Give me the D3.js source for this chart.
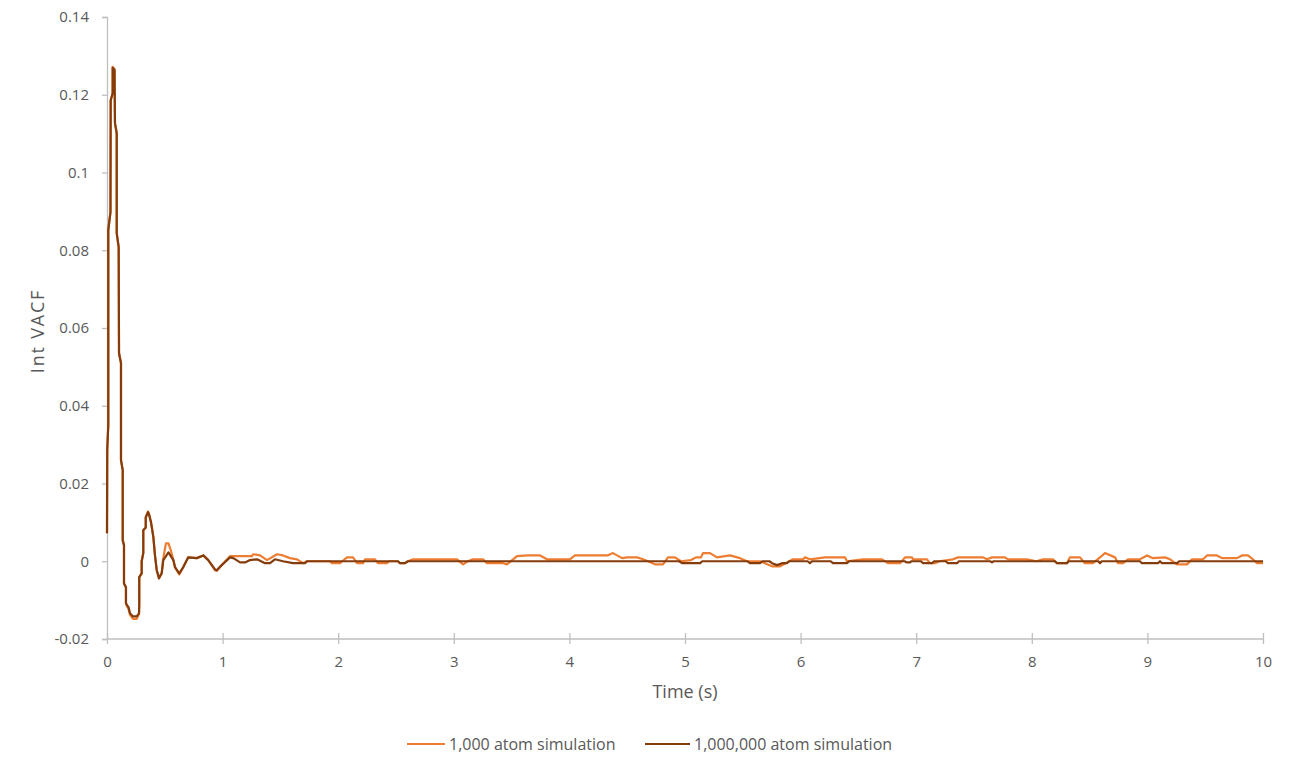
<!DOCTYPE html>
<html><head><meta charset="utf-8">
<script src="https://cdn.jsdelivr.net/npm/d3@7"></script>
<style>
body{margin:0;background:#fff;}
svg{display:block;}
text{font-family:"Open Sans","Liberation Sans",sans-serif;fill:#595959;}
</style></head>
<body><svg id="c" width="1290" height="768"></svg>
<script>
// ---- data ----
const xTicks = [0,1,2,3,4,5,6,7,8,9,10];
const yTicks = [-0.02,0,0.02,0.04,0.06,0.08,0.1,0.12,0.14];
const seriesNames = ["1,000 atom simulation","1,000,000 atom simulation"];

// [time (s), Int VACF]
const sim1k = [
[0,0.0072],[0.002,0.0286],[0.011,0.035],[0.011,0.0852],[0.030,0.0898],[0.032,0.1186],[0.049,0.1204],[0.049,0.1272],
[0.065,0.1266],[0.069,0.1127],[0.084,0.1101],[0.084,0.0844],[0.101,0.0808],[0.104,0.0535],[0.121,0.051],[0.121,0.026],
[0.136,0.0234],[0.136,0.0054],[0.147,0.0041],[0.147,-0.0057],[0.164,-0.0067],[0.164,-0.0108],[0.173,-0.0116],[0.186,-0.0122],
[0.199,-0.0138],[0.225,-0.0148],[0.257,-0.0148],[0.277,-0.0136],[0.279,-0.0108],[0.279,-0.0041],[0.300,-0.0031],[0.300,0.0],
[0.314,0.0021],[0.314,0.008],[0.335,0.0087],[0.335,0.0113],[0.355,0.0128],[0.363,0.0123],[0.381,0.01],[0.401,0.0062],
[0.415,0.0015],[0.430,-0.0023],[0.450,-0.0044],[0.473,-0.0031],[0.487,0.0008],[0.510,0.0046],[0.532,0.0046],[0.555,0.0025],
[0.574,0.0003],[0.588,-0.0015],[0.625,-0.0034],[0.660,-0.0015],[0.703,0.001],[0.776,0.0008],[0.833,0.0015],[0.876,0.0003],
[0.934,-0.0023],[0.949,-0.0025],[0.992,-0.0010],[1.064,0.0013],[1.254,0.0013],[1.263,0.0018],[1.324,0.0015],[1.384,0.0003],
[1.471,0.0018],[1.522,0.0015],[1.583,0.0008],[1.644,0.0005],[1.696,-0.0005],[1.73,0],[1.929,0],[1.946,-0.0005],
[2.016,-0.0005],[2.035,0],[2.076,0.001],[2.128,0.001],[2.163,-0.0005],[2.215,-0.0005],[2.232,0.0005],[2.318,0.0005],
[2.344,-0.0005],[2.422,-0.0005],[2.44,0],[2.517,0],[2.535,-0.0005],[2.578,-0.0005],[2.604,0],[2.647,0.0005],
[3.028,0.0005],[3.080,-0.0008],[3.12,0],[3.166,0.0005],[3.253,0.0005],[3.287,-0.0005],[3.426,-0.0005],[3.460,-0.0008],
[3.547,0.0013],[3.642,0.0015],[3.746,0.0015],[3.806,0.0005],[4.005,0.0005],[4.048,0.0015],[4.33,0.0015],[4.377,0.0021],
[4.455,0.0008],[4.498,0.001],[4.585,0.001],[4.637,0.0005],[4.740,-0.0008],[4.810,-0.0008],[4.853,0.001],[4.913,0.001],
[4.965,0],[5.052,0.0003],[5.095,0.001],[5.138,0.001],[5.156,0.0021],[5.216,0.0021],[5.277,0.001],[5.389,0.0015],
[5.476,0.0008],[5.536,0],[5.649,0],[5.753,-0.0013],[5.822,-0.0013],[5.882,-0.0003],[5.934,0.0005],[6.021,0.0005],
[6.038,0.001],[6.081,0.0005],[6.211,0.001],[6.384,0.001],[6.401,0],[6.540,0.0005],[6.704,0.0005],[6.756,-0.0005],
[6.860,-0.0005],[6.903,0.001],[6.964,0.001],[6.972,0.0005],[7.093,0.0005],[7.119,-0.0005],[7.163,-0.0005],[7.20,0],
[7.318,0.0005],[7.362,0.001],[7.578,0.001],[7.612,0.0005],[7.656,0.001],[7.768,0.001],[7.794,0.0005],[7.958,0.0005],
[8.04,0],[8.097,0.0005],[8.183,0.0005],[8.218,-0.0005],[8.304,-0.0005],[8.330,0.001],[8.417,0.001],[8.460,-0.0005],
[8.529,-0.0005],[8.590,0.001],[8.633,0.0021],[8.720,0.001],[8.746,-0.0005],[8.789,-0.0005],[8.832,0.0005],[8.936,0.0005],
[8.997,0.0015],[9.048,0.0008],[9.152,0.001],[9.196,0.0005],[9.256,-0.0008],[9.343,-0.0008],[9.386,0.0005],[9.481,0.0005],
[9.516,0.0015],[9.602,0.0015],[9.645,0.0008],[9.775,0.0008],[9.818,0.0015],[9.870,0.0015],[9.913,0.0005],[9.948,-0.0005],
[10,-0.0005]
];

const sim1M = [
[0,0.0072],[0.002,0.0286],[0.011,0.035],[0.011,0.0852],[0.030,0.0898],[0.032,0.1186],[0.049,0.1204],[0.049,0.1269],
[0.065,0.1264],[0.069,0.1127],[0.084,0.1101],[0.084,0.0844],[0.101,0.0808],[0.104,0.0535],[0.121,0.051],[0.121,0.026],
[0.136,0.0234],[0.136,0.0054],[0.147,0.0041],[0.147,-0.0057],[0.164,-0.0067],[0.164,-0.0108],[0.173,-0.0113],[0.186,-0.0118],
[0.199,-0.0134],[0.225,-0.0142],[0.257,-0.0142],[0.277,-0.0134],[0.279,-0.0108],[0.279,-0.0041],[0.300,-0.0031],[0.300,0.0],
[0.314,0.0021],[0.314,0.008],[0.335,0.0087],[0.335,0.0113],[0.355,0.0126],[0.363,0.0121],[0.381,0.01],[0.401,0.0062],
[0.415,0.0015],[0.430,-0.0023],[0.450,-0.0044],[0.473,-0.0031],[0.487,0.0003],[0.532,0.0023],[0.574,0.0003],[0.588,-0.0015],
[0.625,-0.0031],[0.660,-0.0015],[0.703,0.001],[0.776,0.0008],[0.833,0.0015],[0.876,0.0003],[0.934,-0.0021],[0.949,-0.0023],
[0.992,-0.0010],[1.064,0.001],[1.093,0.0008],[1.151,-0.0003],[1.194,-0.0003],[1.237,0.0003],[1.298,0.0005],[1.367,-0.0005],
[1.41,-0.0005],[1.453,0.0005],[1.522,0],[1.609,-0.0005],[1.713,-0.0005],[1.73,0],[2.517,0],[2.535,-0.0005],
[2.578,-0.0005],[2.604,0],[4.95,0],[4.974,-0.0005],[5.130,-0.0005],[5.15,0],[5.54,0],[5.562,-0.0005],
[5.649,-0.0005],[5.67,0],[5.73,0],[5.753,-0.0005],[5.796,-0.001],[5.84,-0.0005],[5.882,-0.0005],[5.90,0],
[6.06,0],[6.081,-0.0005],[6.10,0],[6.26,0],[6.280,-0.0005],[6.401,-0.0005],[6.42,0],[6.90,0],
[6.92,-0.0003],[6.946,-0.0003],[6.96,0],[7.04,0],[7.059,-0.0005],[7.137,-0.0005],[7.155,0],[7.255,0],
[7.275,-0.0005],[7.353,-0.0005],[7.37,0],[7.64,0],[7.656,-0.0003],[7.67,0],[8.20,0],[8.218,-0.0005],
[8.304,-0.0005],[8.32,0],[8.575,0],[8.59,-0.0005],[8.605,0],[8.935,0],[8.953,-0.0005],[9.092,-0.0005],
[9.109,0],[9.126,-0.0005],[9.256,-0.0005],[9.275,0],[10,0]
];

const colors = ["#ED7D31","#843C0C"];

// ---- chart ----
const svg = d3.select("#c");
const L = 107, R = 1263, T = 17, B = 639;
const FONT = "Open Sans";
const x = d3.scaleLinear().domain([0,10]).range([L,R]);
const y = d3.scaleLinear().domain([-0.02,0.14]).range([B,T]);
const axisColor = "#BFBFBF";

// y axis
const ya = svg.append("g").attr("transform",`translate(${L},0)`)
  .call(d3.axisLeft(y).tickValues(yTicks).tickSize(5).tickPadding(13)
    .tickFormat(d=>String(+d.toFixed(2))));
ya.select(".domain").attr("stroke",axisColor).attr("stroke-width",1.3);
ya.selectAll(".tick line").attr("stroke",axisColor).attr("stroke-width",1.3);
ya.selectAll(".tick text").attr("font-size",15).attr("fill","#595959").attr("font-family",FONT);

// x axis (crossing ticks)
const xa = svg.append("g").attr("transform",`translate(0,${B})`)
  .call(d3.axisBottom(x).tickValues(xTicks).tickSize(5).tickPadding(12).tickFormat(d3.format("d")));
xa.select(".domain").attr("stroke",axisColor).attr("stroke-width",1.3).attr("d",`M${L},0H${R}`);
xa.selectAll(".tick line").attr("stroke",axisColor).attr("stroke-width",1.3).attr("y1",-6).attr("y2",5);
xa.selectAll(".tick text").attr("font-size",15).attr("fill","#595959").attr("font-family",FONT);

// titles
svg.append("text").attr("x",(L+R)/2).attr("y",698).attr("text-anchor","middle")
  .attr("font-size",18).text("Time (s)");
svg.append("text").attr("transform",`translate(44,331) rotate(-90)`).attr("text-anchor","middle")
  .attr("font-size",18).attr("letter-spacing",1.8).text("Int VACF");

// lines
const line = d3.line().x(d=>x(d[0])).y(d=>y(d[1]));
[sim1k, sim1M].forEach((s,i)=>{
  svg.append("path").datum(s).attr("d",line).attr("fill","none")
    .attr("stroke",colors[i]).attr("stroke-width",2.2).attr("stroke-linejoin","round");
});

// legend
const legX = [407,645], legW = [38,45];
seriesNames.forEach((n,i)=>{
  svg.append("line").attr("x1",legX[i]).attr("x2",legX[i]+legW[i]).attr("y1",744).attr("y2",744)
    .attr("stroke",colors[i]).attr("stroke-width",2.2);
  svg.append("text").attr("x",legX[i]+legW[i]+4).attr("y",750).attr("font-size",16).text(n);
});
</script></body></html>
